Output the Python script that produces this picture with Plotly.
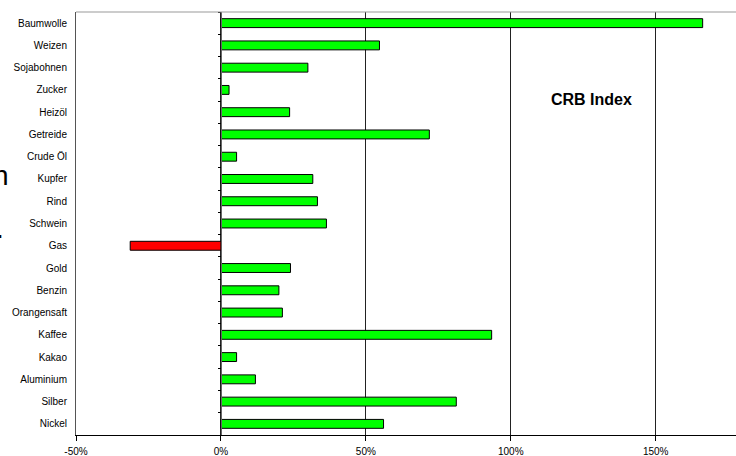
import plotly.graph_objects as go

categories = ["Baumwolle", "Weizen", "Sojabohnen", "Zucker", "Heizöl", "Getreide",
              "Crude Öl", "Kupfer", "Rind", "Schwein", "Gas", "Gold", "Benzin",
              "Orangensaft", "Kaffee", "Kakao", "Aluminium", "Silber", "Nickel"]
values = [166.2, 54.7, 30.0, 2.8, 23.7, 71.9, 5.4, 31.7, 33.3, 36.4, -31.3,
          24.0, 20.0, 21.2, 93.4, 5.4, 11.9, 81.2, 56.1]
x_ticks = [-50, 0, 50, 100, 150]
x_tick_labels = ["-50%", "0%", "50%", "100%", "150%"]
title_text = "CRB Index"

W, H = 736, 456
L, R, T, B = 76, 0, 12, 21
xmin, xmax = -50, 177.7
n = len(categories)

colors = ["#00FF00" if v >= 0 else "#FF0000" for v in values]

fig = go.Figure()
fig.add_trace(go.Bar(
    y=categories, x=values, orientation="h",
    marker=dict(color=colors, line=dict(color="black", width=1)),
    width=0.4, showlegend=False, hoverinfo="skip",
))
# helper trace for the zero-line axis with category boundary ticks
fig.add_trace(go.Scatter(x=[None], y=[None], yaxis="y2", showlegend=False,
                         hoverinfo="skip"))

font = "Arial, Liberation Sans, sans-serif"
zero_pos = (0 - xmin) / (xmax - xmin)

fig.update_layout(
    width=W, height=H,
    margin=dict(l=L, r=R, t=T, b=B, pad=0),
    paper_bgcolor="white", plot_bgcolor="white",
    font=dict(family=font, size=10, color="black"),
    bargap=0.6,
    xaxis=dict(
        range=[xmin, xmax], tickvals=x_ticks, ticktext=x_tick_labels,
        showgrid=True, gridcolor="#222222", gridwidth=1,
        zeroline=False, showline=True, linecolor="black", linewidth=1,
        ticks="outside", ticklen=5, tickcolor="black", tickwidth=1,
        tickfont=dict(size=10, family=font, color="black"),
        ticklabelstandoff=2,
    ),
    yaxis=dict(
        categoryorder="array", categoryarray=categories,
        range=[n - 0.5, -0.5], showgrid=False, zeroline=False,
        showline=True, linecolor="#555555", linewidth=1,
        ticks="", tickfont=dict(size=10, family=font, color="black"),
        ticklabelstandoff=6,
    ),
    yaxis2=dict(
        overlaying="y", anchor="free", position=zero_pos, side="left",
        range=[n - 0.5, -0.5], showgrid=False, zeroline=False,
        showline=True, linecolor="#666666", linewidth=1,
        tickvals=[i - 0.5 for i in range(n + 1)], ticks="outside",
        ticklen=3, tickcolor="black", tickwidth=1, showticklabels=False,
    ),
    shapes=[dict(type="line", xref="paper", yref="paper", x0=0, x1=1, y0=1, y1=1,
                 line=dict(color="#999999", width=1))],
    annotations=[
        dict(text="<b>" + title_text + "</b>", xref="x", yref="paper",
             x=128, y=(435 - 100) / 423, xanchor="center", yanchor="middle",
             showarrow=False, font=dict(size=16, family=font, color="black")),
        dict(text="n", xref="paper", yref="paper", x=(10.5 - L) / 660,
             y=(435 - 175) / 423, xanchor="right", yanchor="middle",
             showarrow=False, font=dict(size=28, family=font, color="black")),
        dict(text=".", xref="paper", yref="paper", x=(5.5 - L) / 660,
             y=(435 - 229) / 423, xanchor="right", yanchor="middle",
             showarrow=False, font=dict(size=28, family=font, color="black")),
    ],
)

fig.write_html("out.html")
